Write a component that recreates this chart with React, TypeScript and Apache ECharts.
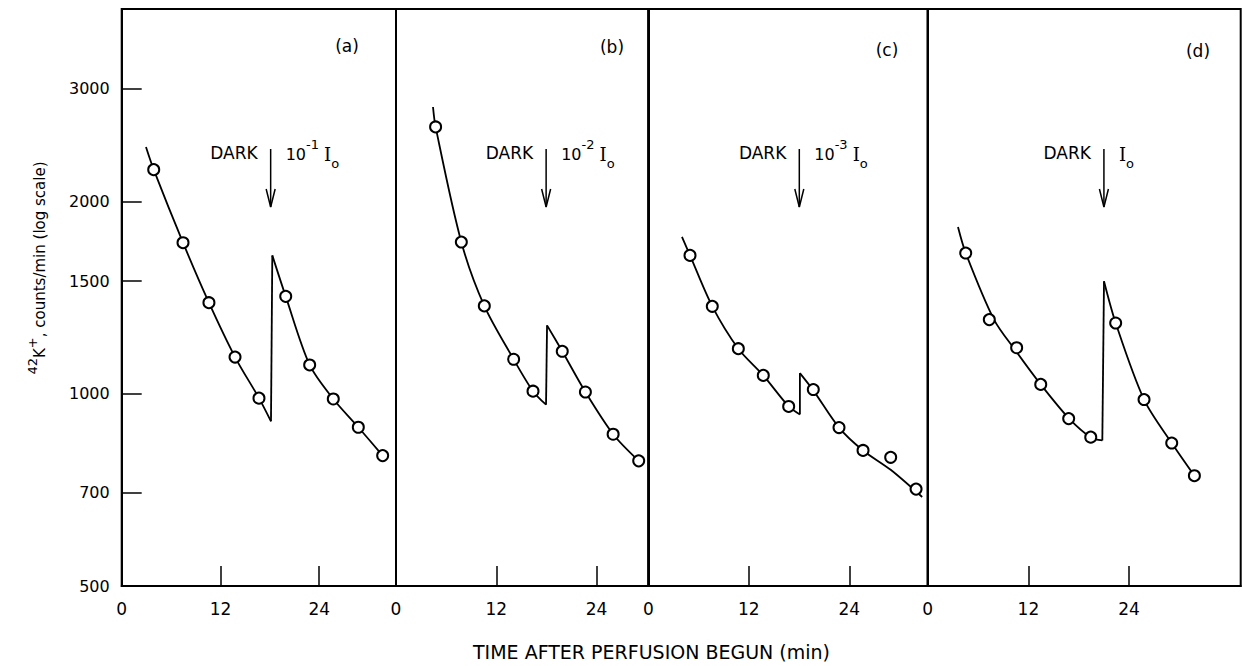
import React, { useEffect, useRef } from "react";
import * as echarts from "echarts";

// ---------- data (minutes, counts/min) ----------
const panelNames = ["(a)", "(b)", "(c)", "(d)"];
const lightExponents = ["-1", "-2", "-3", ""];
const darkTimes = [18.1, 17.97, 18.03, 21.0];

const pointsA: number[][] = [[3.89, 2242], [7.45, 1723], [10.6, 1388], [13.77, 1141], [16.68, 984], [19.93, 1420], [22.84, 1109], [25.71, 981], [28.75, 886], [31.71, 800]];
const curveBeforeA: number[][] = [[2.95, 2432], [3.89, 2242], [7.45, 1723], [10.6, 1388], [13.77, 1141], [16.68, 984], [18.14, 905]];
const jumpA: number[][] = [[18.14, 905], [18.3, 1646]];
const curveAfterA: number[][] = [[18.3, 1646], [19.93, 1420], [22.84, 1109], [25.71, 981], [28.75, 886], [31.71, 800]];

const pointsB: number[][] = [[4.74, 2615], [7.82, 1727], [10.57, 1372], [14.08, 1132], [16.4, 1009], [19.9, 1165], [22.67, 1006], [25.99, 864], [29.05, 785]];
const curveBeforeB: number[][] = [[4.43, 2810], [4.74, 2615], [7.82, 1727], [10.57, 1372], [14.08, 1132], [16.4, 1009], [17.96, 961]];
const jumpB: number[][] = [[17.96, 961], [18.08, 1279]];
const curveAfterB: number[][] = [[18.08, 1279], [19.9, 1165], [22.67, 1006], [25.99, 864], [29.05, 785]];

const pointsC: number[][] = [[4.98, 1646], [7.64, 1370], [10.75, 1176], [13.73, 1068], [16.76, 955], [19.7, 1015], [22.77, 885], [25.64, 815], [28.94, 795], [31.97, 709]];
const curveBeforeC: number[][] = [[4.02, 1759], [4.98, 1646], [7.64, 1370], [10.75, 1176], [13.73, 1068], [16.76, 955], [18.1, 928]];
const jumpC: number[][] = [[18.1, 928], [18.1, 1077]];
const curveAfterC: number[][] = [[18.1, 1077], [19.7, 1012], [22.77, 885], [25.64, 815], [28.94, 760], [32.7, 689]];

const pointsD: number[][] = [[4.53, 1660], [7.34, 1306], [10.6, 1180], [13.47, 1034], [16.8, 914], [19.43, 855], [22.4, 1290], [25.78, 979], [29.08, 837], [31.78, 744]];
const curveBeforeD: number[][] = [[3.61, 1823], [4.53, 1660], [7.9, 1306], [10.6, 1162], [13.47, 1034], [16.83, 915], [19.5, 853], [20.81, 845]];
const jumpD: number[][] = [[20.81, 845], [21.01, 1499]];
const curveAfterD: number[][] = [[21.01, 1499], [22.4, 1290], [25.78, 979], [29.08, 837], [31.78, 744]];

const yTickValues = [500, 700, 1000, 1500, 2000, 3000];
const xLabelValues = [0, 12, 24];
const xTickValues = [12, 24];

const panels = [
  { points: pointsA, before: curveBeforeA, jump: jumpA, after: curveAfterA },
  { points: pointsB, before: curveBeforeB, jump: jumpB, after: curveAfterB },
  { points: pointsC, before: curveBeforeC, jump: jumpC, after: curveAfterC },
  { points: pointsD, before: curveBeforeD, jump: jumpD, after: curveAfterD },
];

// ---------- layout ----------
const gridLeft = [121.7, 396, 648.3, 927.7];
const gridWidth = [274.3, 252.3, 279.4, 313];
const xMax = [33.33, 30.2, 33.36, 37.3];
const gridTop = 9;
const gridHeight = 577;
const yMin = 500;
const yMax = 4000;
const letterX = [347, 612, 887, 1198];
const letterY = [46, 47, 50, 51];
const FONT = "DejaVu Sans";

export default function App() {
  const ref = useRef<HTMLDivElement>(null);

  useEffect(() => {
    if (!ref.current) return;
    const chart = echarts.init(ref.current, null, { renderer: "svg" });

    const grids = gridLeft.map((l, i) => ({
      left: l,
      top: gridTop,
      width: gridWidth[i],
      height: gridHeight,
      show: true,
      borderColor: "#000",
      borderWidth: 2,
      backgroundColor: "transparent",
      outerBoundsMode: "none",
      containLabel: false,
    }));

    const xAxes = gridLeft.map((_, i) => ({
      type: "value",
      gridIndex: i,
      min: 0,
      max: xMax[i],
      axisLine: { show: true, onZero: false, lineStyle: { color: "#000", width: 2 } },
      axisTick: { show: true, inside: true, length: 20, customValues: xTickValues, lineStyle: { color: "#000", width: 1.5 } },
      axisLabel: { show: true, customValues: xLabelValues, color: "#000", fontSize: 17, fontFamily: FONT, margin: 14 },
      splitLine: { show: false },
    }));

    const yAxes: any[] = gridLeft.map((_, i) => ({
      type: "log",
      logBase: 10,
      gridIndex: i,
      position: "left",
      min: yMin,
      max: yMax,
      axisLine: { show: true, lineStyle: { color: "#000", width: 2 } },
      axisTick: { show: false },
      axisLabel: { show: false },
      splitLine: { show: false },
      minorTick: { show: false },
    }));
    const logTicks = yTickValues.map((v) => Math.log10(v));
    yAxes.push({
      type: "value",
      gridIndex: 0,
      position: "left",
      min: Math.log10(yMin),
      max: Math.log10(yMax),
      axisLine: { show: false },
      axisTick: { show: true, inside: true, length: 20, customValues: logTicks, lineStyle: { color: "#000", width: 1.5 } },
      axisLabel: {
        show: true,
        customValues: logTicks,
        formatter: (v: number) => String(Math.round(Math.pow(10, v))),
        color: "#000",
        fontSize: 16,
        fontFamily: FONT,
        margin: 12,
      },
      splitLine: { show: false },
    });

    const series: any[] = [];
    panels.forEach((p, i) => {
      const lineBase = {
        type: "line",
        xAxisIndex: i,
        yAxisIndex: i,
        symbol: "none",
        showSymbol: false,
        lineStyle: { color: "#000", width: 1.8 },
        z: 2,
        silent: true,
      };
      series.push({ ...lineBase, data: p.before, smooth: 0.3 });
      series.push({ ...lineBase, data: p.jump, smooth: false });
      series.push({ ...lineBase, data: p.after, smooth: 0.3 });
      series.push({
        type: "scatter",
        xAxisIndex: i,
        yAxisIndex: i,
        data: p.points,
        symbol: "circle",
        symbolSize: 11,
        itemStyle: { color: "#fff", borderColor: "#000", borderWidth: 2, opacity: 1 },
        z: 5,
        silent: true,
      });
    });

    chart.setOption({
      animation: false,
      backgroundColor: "#fff",
      grid: grids,
      xAxis: xAxes,
      yAxis: yAxes,
      series,
    });

    const graphic: any[] = [];
    for (let i = 0; i < 4; i++) {
      const ax = chart.convertToPixel({ xAxisIndex: i } as any, darkTimes[i]) as unknown as number;
      graphic.push({
        type: "line",
        shape: { x1: ax, y1: 149, x2: ax, y2: 207 },
        style: { stroke: "#000", lineWidth: 1.5 },
        z: 10,
      });
      graphic.push({
        type: "polyline",
        shape: { points: [[ax - 4.5, 189], [ax, 207], [ax + 4.5, 189]] },
        style: { stroke: "#000", lineWidth: 1.5, fill: null },
        z: 10,
      });
      graphic.push({
        type: "text",
        x: ax - 13,
        y: 153,
        style: { text: "DARK", fontSize: 17, fontFamily: FONT, fill: "#000", align: "right", verticalAlign: "middle" },
        z: 10,
      });
      const exp = lightExponents[i];
      const labelText = exp ? `{n|10}{sup|${exp}}{n| }{i|I}{sub|o}` : `{i|I}{sub|o}`;
      graphic.push({
        type: "text",
        x: ax + 15,
        y: 154,
        style: {
          text: labelText,
          align: "left",
          verticalAlign: "middle",
          fill: "#000",
          rich: {
            n: { fontSize: 16, fontFamily: FONT, fill: "#000", lineHeight: 32, verticalAlign: "middle" },
            sup: { fontSize: 13, fontFamily: FONT, fill: "#000", lineHeight: 13, verticalAlign: "top" },
            i: { fontSize: 18, fontFamily: "DejaVu Serif", fill: "#000", lineHeight: 32, verticalAlign: "middle" },
            sub: { fontSize: 13, fontFamily: FONT, fill: "#000", lineHeight: 20, verticalAlign: "bottom" },
          },
        },
        z: 10,
      });
      graphic.push({
        type: "text",
        x: letterX[i],
        y: letterY[i],
        style: { text: panelNames[i], fontSize: 17, fontFamily: FONT, fill: "#000", align: "center", verticalAlign: "middle" },
        z: 10,
      });
    }
    graphic.push({
      type: "text",
      x: 651.5,
      y: 652,
      style: { text: "TIME AFTER PERFUSION BEGUN (min)", fontSize: 19, fontFamily: FONT, fill: "#000", align: "center", verticalAlign: "middle" },
      z: 10,
    });
    graphic.push({
      type: "text",
      x: 40,
      y: 268,
      rotation: Math.PI / 2,
      style: {
        text: "{sup|42}{n|K}{sup2|+}{n|, counts/min (log scale)}",
        align: "center",
        verticalAlign: "middle",
        fill: "#000",
        rich: {
          n: { fontSize: 15, fontFamily: FONT, fill: "#000", lineHeight: 28, verticalAlign: "middle" },
          sup: { fontSize: 13, fontFamily: FONT, fill: "#000", lineHeight: 22, verticalAlign: "top" },
          sup2: { fontSize: 13, fontFamily: FONT, fill: "#000", lineHeight: 12, verticalAlign: "top" },
        },
      },
      z: 10,
    });

    chart.setOption({ graphic });

    return () => {
      chart.dispose();
    };
  }, []);

  return (
    <div
      ref={ref}
      style={{ position: "absolute", left: 0, top: 0, width: 1242, height: 666, background: "#fff" }}
    />
  );
}
